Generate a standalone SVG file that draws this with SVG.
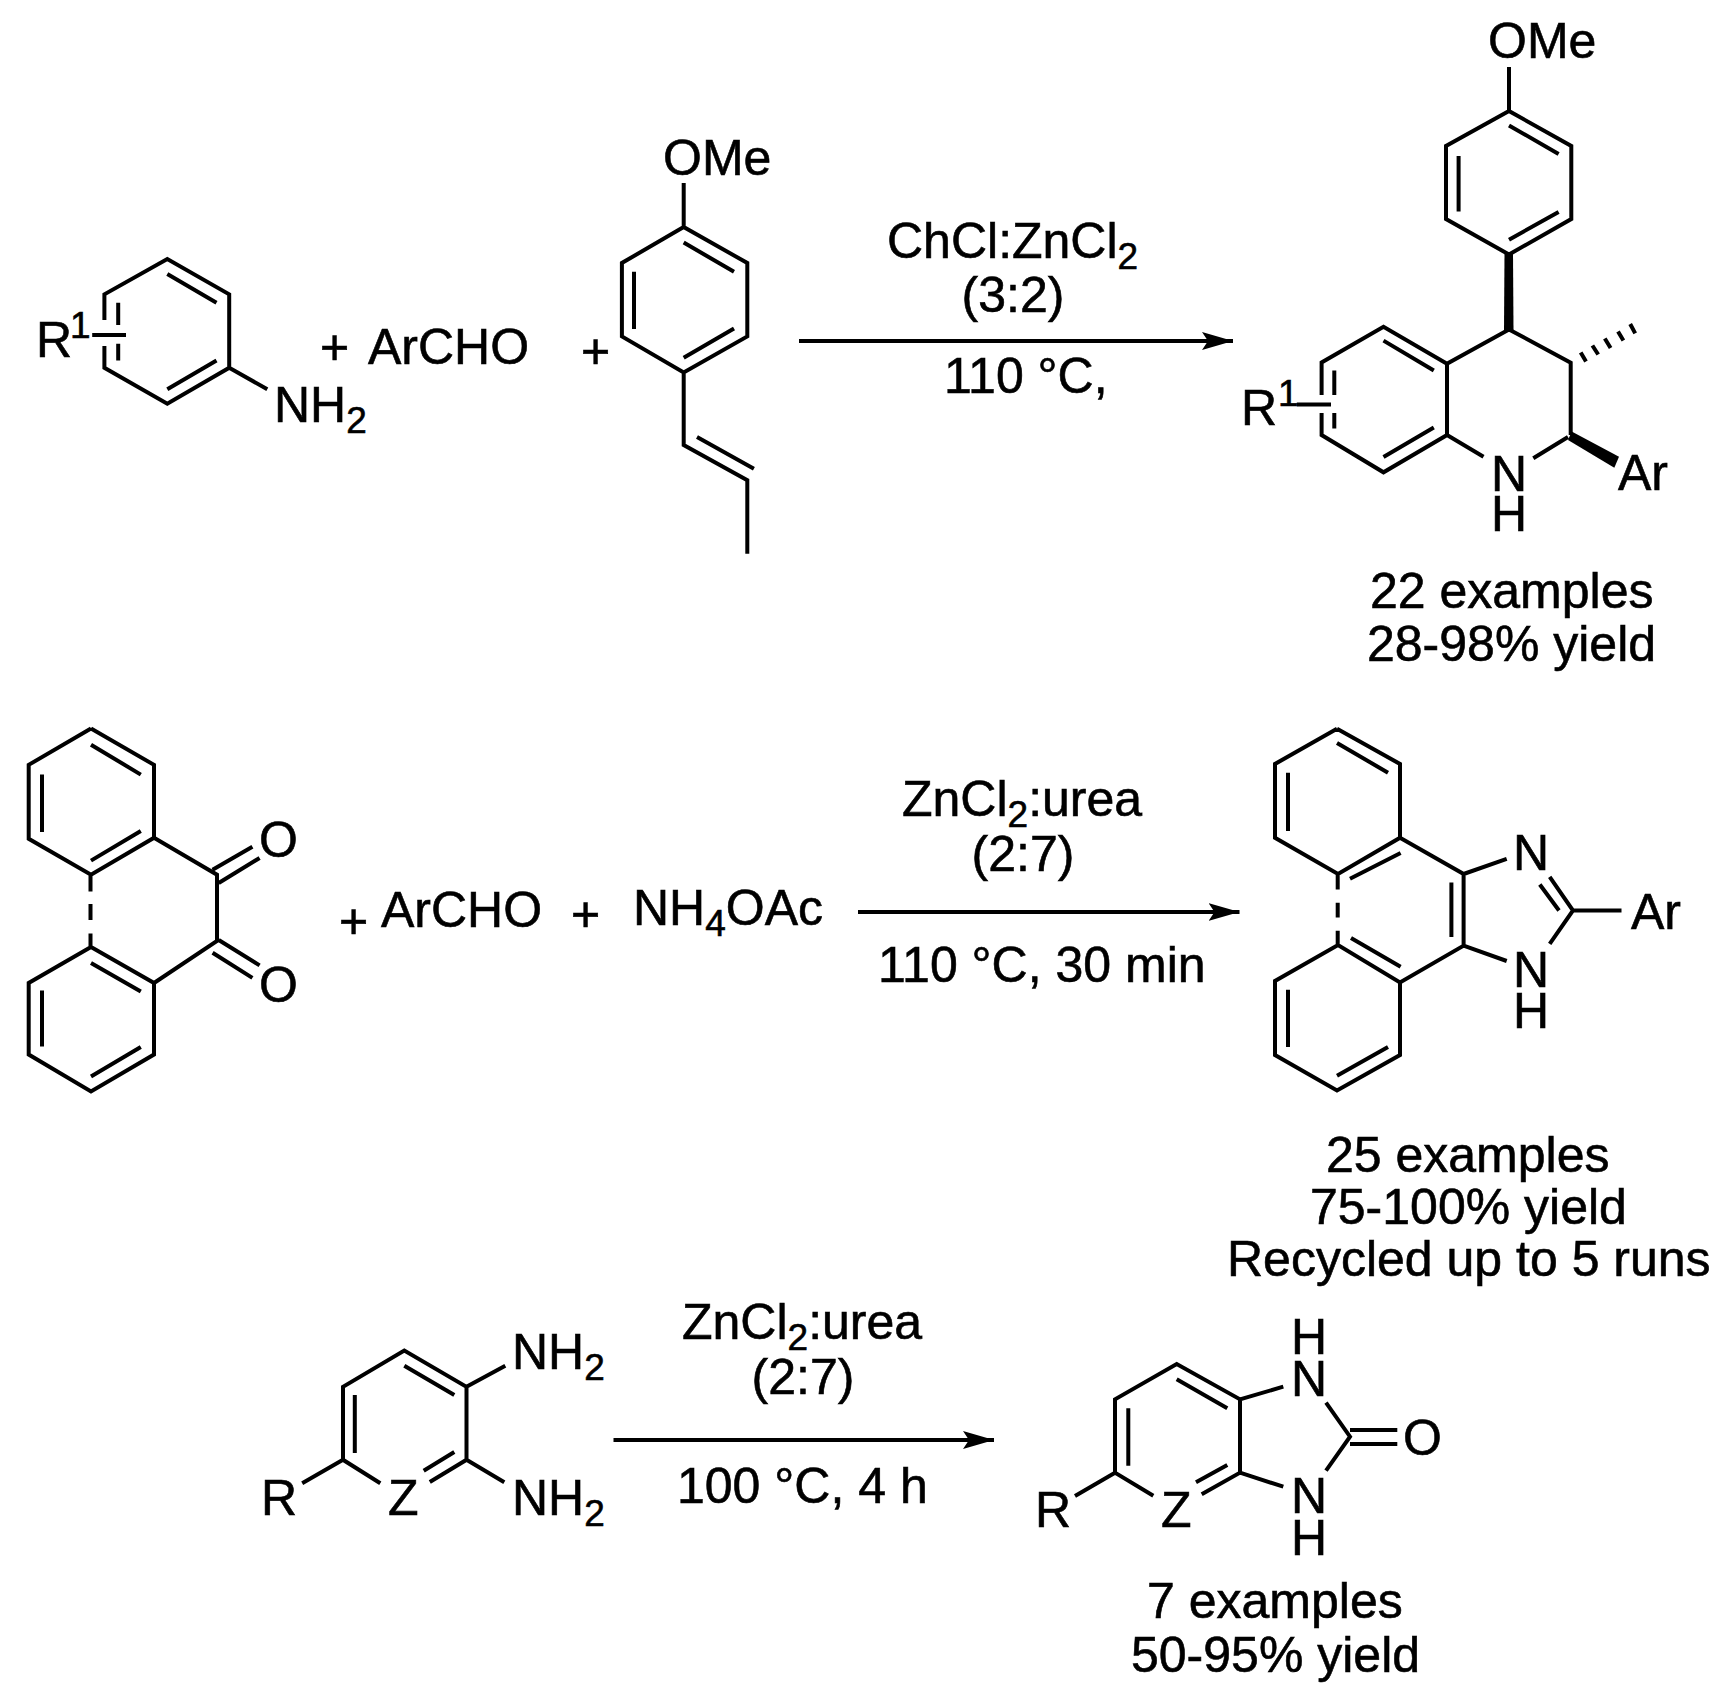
<svg xmlns="http://www.w3.org/2000/svg" width="1732" height="1702" viewBox="0 0 1732 1702">
<style>
text{font-family:"Liberation Sans",Arial,sans-serif;font-size:50px;fill:#000;stroke:#000;stroke-width:.6}
.s{font-size:37px}
path.b{fill:none;stroke:#000;stroke-width:4;stroke-linejoin:miter;stroke-linecap:butt}
path.a{fill:none;stroke:#000;stroke-width:3.8}
path.h{fill:none;stroke:#000;stroke-width:4}
.f{fill:#000;stroke:none}
</style>
<defs>
<marker id="head" markerUnits="userSpaceOnUse" markerWidth="32" markerHeight="20" refX="31" refY="10" orient="auto">
<path class="f" d="M31 10L0 1L6 10L0 19Z"/>
</marker>
</defs>
<rect width="1732" height="1702" fill="#fff"/>

<g id="connectors">
<path class="a" d="M799 341H1233" marker-end="url(#head)"/>
<path class="a" d="M858 912H1239.500" marker-end="url(#head)"/>
<path class="a" d="M613.500 1440H994" marker-end="url(#head)"/>
</g>

<g id="aniline">
<path class="b" d="M104.400 320V294.300L167.300 259L229.200 294.300V367.800L167.300 403.700L104.400 367.800V346M167.300 274L216.500 302.700M167.300 389.200L216.500 360.500M118.200 302.700V325M118.200 343.700V360.500M92.200 335H126M229.200 367.800L267.300 389.200"/>
<text x="36" y="357">R</text><text class="s" x="70" y="338">1</text>
<text x="274" y="422">NH<tspan class="s" dy="11">2</tspan></text>
</g>

<g id="plus-archo-1"><text x="320" y="364">+</text><text x="368" y="364">ArCHO</text></g>
<g id="plus-1"><text x="581" y="368">+</text></g>

<g id="anethole">
<path class="b" d="M683.700 183V227L747.300 263V336.400L683.700 372.400L621.900 336.400V263L683.700 227M683.700 242.600L734 271.700M683.700 357.800L734 328.400M634 271.700V329M683.700 372.400V445L747.300 480.300V553.800M697 437L753.900 468.800"/>
<text x="663" y="175">OMe</text>
</g>

<g id="conditions-1">
<text x="887" y="258">ChCl:ZnCl<tspan class="s" dy="11">2</tspan></text>
<text x="1013" y="312" text-anchor="middle">(3:2)</text>
<text x="944" y="393">110 °C,</text>
</g>

<g id="product-quinoline">
<path class="b" d="M1509 67V111L1571.300 146V219L1509 254.500L1446 219V146L1509 111M1509 125.400L1558.600 154M1509 239.700L1558.600 212M1458.600 156V211.600M1509 329.400L1447 363.800V435L1383.500 472.300L1321.600 435V413M1321.600 395V362.500L1383.500 326.800L1447 363.800M1509 329.400L1570.700 362.700V435M1383.500 340.600L1433.800 370.500M1383.500 457L1433.800 427.600M1334.300 370.500V395M1334.300 413V428.500M1296.800 404.500H1331M1447 435L1483.500 456.700M1533.300 458.300L1568 437"/>
<polygon class="f" points="1504.500,254 1513,254 1513.500,330 1504,330"/>
<polygon class="f" points="1571.700,431.500 1619,456.700 1614.300,467.700 1568,440"/>
<path class="h" d="M1580.700 352.500L1586 361.500M1592.400 345.500L1598.200 354.500M1604.800 338.500L1610.600 348M1618 331.500L1623.400 340.500M1630.200 324L1635.200 333.400"/>
<text x="1241" y="425">R</text><text class="s" x="1278" y="406">1</text>
<text x="1491" y="491">N</text>
<text x="1491" y="531">H</text>
<text x="1618" y="490">Ar</text>
<text x="1488" y="58">OMe</text>
<text x="1370" y="608">22 examples</text>
<text x="1367" y="661">28-98% yield</text>
</g>

<g id="phenanthrenequinone">
<path class="b" d="M91 728.600L154 764.800V837.800L91 874.700L28.700 838.800V764.800L91 728.600M91 744.700L140.800 774.600M42 774.600V832M91 860.600L140.800 831M91 947L154 983V1054.500L91 1091.500L28.700 1054.500V983L91 947M91 963L140.800 991.500M42 990.500V1046.500M91 1076.500L140.800 1047M90.500 874.700V891.500M90.500 904V920M90.500 933.500V947M154 837.800L217 874.700V941L154 983M212.600 869.700L252.400 846.800M218.700 883L259.600 858M212.600 952.700L252.400 977.900M218.700 940L259.600 965.400"/>
<text x="259" y="857">O</text>
<text x="259" y="1002">O</text>
</g>

<g id="plus-2"><text x="339" y="938">+</text></g>
<g id="archo-2"><text x="381" y="927">ArCHO</text></g>
<g id="plus-3"><text x="571" y="931">+</text></g>
<g id="nh4oac"><text x="633" y="925">NH<tspan class="s" dy="11">4</tspan><tspan dy="-11">OAc</tspan></text></g>

<g id="conditions-2">
<text x="902" y="816">ZnCl<tspan class="s" dy="11">2</tspan><tspan dy="-11">:urea</tspan></text>
<text x="1023" y="871" text-anchor="middle">(2:7)</text>
<text x="878" y="982">110 °C, 30 min</text>
</g>

<g id="product-imidazole">
<path class="b" d="M1337 728.700L1400 764V837.800L1338 874L1275 837.800V764L1337 728.700M1337 743L1388 772.700M1288 772.700V831M1350 878.700L1400.600 853M1400 837.800L1463.600 874V945.700L1400 982.400L1338 945L1275 981V1055L1337 1090.400L1400 1055V982.400M1451.400 882.500V937M1351 938L1400.600 966.700M1288 989.700V1047M1337 1075.800L1388 1047M1337.700 874V889.400M1337.700 902.800V917.400M1337.700 930.800V945M1463.600 874L1506.700 858.800M1463.600 945.700L1506.700 961M1549.700 876.800L1573 910.500L1549.700 943.800M1539.800 884.500L1559 910.500M1573 910.500H1621.500"/>
<text x="1513" y="870">N</text>
<text x="1513" y="987">N</text>
<text x="1513" y="1028">H</text>
<text x="1631" y="929">Ar</text>
<text x="1326" y="1172">25 examples</text>
<text x="1310" y="1224">75-100% yield</text>
<text x="1227" y="1276">Recycled up to 5 runs</text>
</g>

<g id="diamine">
<path class="b" d="M380.300 1483.300L343 1459.800V1386.800L404.300 1350.600L466.500 1386.800V1459.800L429.800 1482M404.300 1365.700L454.300 1395M354.800 1395V1453M454.300 1452L423.700 1470.800M343 1459.800L302.200 1483.300M466.500 1386.800L505.300 1365.700M466.500 1459.800L504.300 1482.300"/>
<text x="261" y="1515">R</text>
<text x="388" y="1515">Z</text>
<text x="512" y="1369">NH<tspan class="s" dy="11">2</tspan></text>
<text x="512" y="1515">NH<tspan class="s" dy="11">2</tspan></text>
</g>

<g id="conditions-3">
<text x="682" y="1339">ZnCl<tspan class="s" dy="11">2</tspan><tspan dy="-11">:urea</tspan></text>
<text x="803" y="1394" text-anchor="middle">(2:7)</text>
<text x="677" y="1503">100 °C, 4 h</text>
</g>

<g id="product-urea">
<path class="b" d="M1153.300 1495.700L1115 1472.700V1399.300L1176.700 1364L1240 1399.300V1472.700L1201.700 1494.300M1176.700 1379.300L1227.300 1408.300M1128.300 1408.300V1465.700M1227.300 1465L1196 1482.300M1115 1472.700L1075 1496M1240 1399.300L1283.300 1386.700M1240 1472.700L1283.300 1486.700M1326 1402.700L1350 1436.700L1326 1470.700M1350 1430H1397.300M1350 1444H1397.300"/>
<text x="1035" y="1527">R</text>
<text x="1161" y="1527">Z</text>
<text x="1291" y="1354">H</text>
<text x="1291" y="1396">N</text>
<text x="1291" y="1513">N</text>
<text x="1291" y="1555">H</text>
<text x="1403" y="1455">O</text>
<text x="1147" y="1618">7 examples</text>
<text x="1131" y="1672">50-95% yield</text>
</g>
</svg>
